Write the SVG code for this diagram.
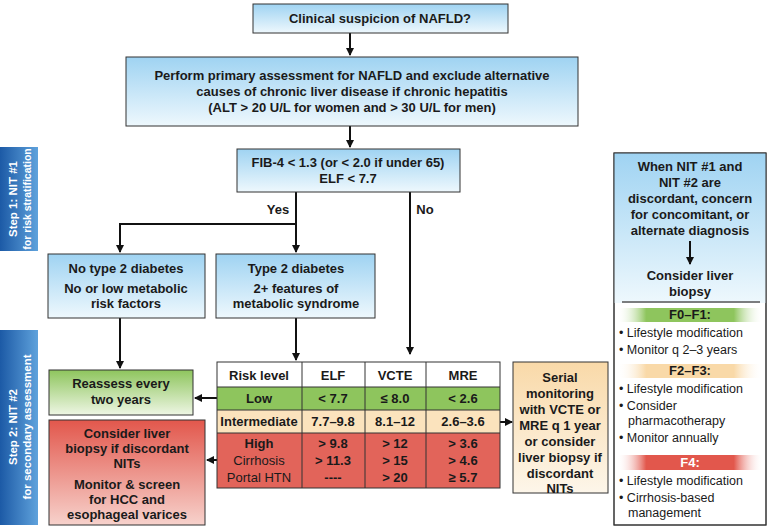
<svg xmlns="http://www.w3.org/2000/svg" width="769" height="531" viewBox="0 0 769 531">
<style>
text{font-family:"Liberation Sans",Arial,sans-serif;font-size:13px;fill:#1a1a1a}
.b{font-weight:bold}
.box{stroke:#333;stroke-width:1}
.ln{stroke:#111;stroke-width:2;fill:none}
.side{font-weight:bold;fill:#fff;font-size:11.5px}
.t{font-size:12.5px}
</style>
<defs>
<linearGradient id="blue" x1="0" y1="0" x2="0" y2="1"><stop offset="0" stop-color="#9fd3f2"/><stop offset="1" stop-color="#eef8fd"/></linearGradient>
<linearGradient id="green" x1="0" y1="0" x2="0" y2="1"><stop offset="0" stop-color="#8ec55d"/><stop offset="1" stop-color="#eef6e4"/></linearGradient>
<linearGradient id="red" x1="0" y1="0" x2="0" y2="1"><stop offset="0" stop-color="#e2574c"/><stop offset="1" stop-color="#f7d2cc"/></linearGradient>
<linearGradient id="beige" x1="0" y1="0" x2="0" y2="1"><stop offset="0" stop-color="#f9d9a8"/><stop offset="1" stop-color="#fdf6ea"/></linearGradient>
<linearGradient id="side" x1="0" y1="0" x2="1" y2="0"><stop offset="0" stop-color="#1c5aa6"/><stop offset="1" stop-color="#5fa2dc"/></linearGradient>
<linearGradient id="hg" x1="0" y1="0" x2="1" y2="0"><stop offset="0" stop-color="#fff" stop-opacity="0"/><stop offset="0.2" stop-color="#8ec55d"/><stop offset="0.8" stop-color="#8ec55d"/><stop offset="1" stop-color="#fff" stop-opacity="0"/></linearGradient>
<linearGradient id="hb" x1="0" y1="0" x2="1" y2="0"><stop offset="0" stop-color="#fff" stop-opacity="0"/><stop offset="0.2" stop-color="#f9d9a8"/><stop offset="0.8" stop-color="#f9d9a8"/><stop offset="1" stop-color="#fff" stop-opacity="0"/></linearGradient>
<linearGradient id="hr" x1="0" y1="0" x2="1" y2="0"><stop offset="0" stop-color="#fff" stop-opacity="0"/><stop offset="0.2" stop-color="#e2574c"/><stop offset="0.8" stop-color="#e2574c"/><stop offset="1" stop-color="#fff" stop-opacity="0"/></linearGradient>
<marker id="ar" markerWidth="8" markerHeight="8" refX="7" refY="4" orient="auto" markerUnits="userSpaceOnUse" viewBox="0 0 8 8"><path d="M0,0 L8,4 L0,8 Z" fill="#111"/></marker>
</defs>
<rect width="769" height="531" fill="#fff"/>

<g id="step1"><rect x="0" y="147" width="38" height="104" fill="url(#side)"/>
<text class="side" transform="translate(17,199) rotate(-90)" text-anchor="middle">Step 1: NIT #1</text>
<text class="side" transform="translate(31,199) rotate(-90)" text-anchor="middle" font-size="10.5" style="font-size:10.5px">for risk stratification</text></g>
<g id="step2"><rect x="0" y="330" width="38" height="195" fill="url(#side)"/>
<text class="side" transform="translate(17,427) rotate(-90)" text-anchor="middle">Step 2: NIT #2</text>
<text class="side" transform="translate(31,427) rotate(-90)" text-anchor="middle">for secondary assessment</text></g>

<g id="connectors">
<path class="ln" d="M350,33 V55" marker-end="url(#ar)"/>
<path class="ln" d="M350,126 V147" marker-end="url(#ar)"/>
<path class="ln" d="M296,192 V252" marker-end="url(#ar)"/>
<path class="ln" d="M296,224 H120 V252" marker-end="url(#ar)"/>
<path class="ln" d="M410,192 V354" marker-end="url(#ar)"/>
<path class="ln" d="M120,318 V368" marker-end="url(#ar)"/>
<path class="ln" d="M296,318 V360" marker-end="url(#ar)"/>
<path class="ln" d="M217,398 H195" marker-end="url(#ar)"/>
<path class="ln" d="M217,460 H207" marker-end="url(#ar)"/>
<path class="ln" d="M500,422 H512" marker-end="url(#ar)"/>
<text x="278" y="214" class="b" text-anchor="middle">Yes</text>
<text x="425" y="214" class="b" text-anchor="middle">No</text>
</g>

<g id="n1"><rect x="253" y="4" width="255" height="29" class="box" fill="url(#blue)"/>
<text x="380" y="23" class="b" text-anchor="middle">Clinical suspicion of NAFLD?</text></g>

<g id="n2"><rect x="126" y="57" width="452" height="69" class="box" fill="url(#blue)"/>
<text class="b" text-anchor="middle"><tspan x="352" y="80">Perform primary assessment for NAFLD and exclude alternative</tspan><tspan x="352" y="96">causes of chronic liver disease if chronic hepatitis</tspan><tspan x="352" y="112">(ALT &gt; 20 U/L for women and &gt; 30 U/L for men)</tspan></text></g>

<g id="n3"><rect x="237" y="149" width="223" height="43" class="box" fill="url(#blue)"/>
<text class="b" text-anchor="middle"><tspan x="348" y="167">FIB-4 &lt; 1.3 (or &lt; 2.0 if under 65)</tspan><tspan x="348" y="183">ELF &lt; 7.7</tspan></text></g>

<g id="n4"><rect x="48" y="254" width="157" height="64" class="box" fill="url(#blue)"/>
<text class="b" text-anchor="middle"><tspan x="126" y="273">No type 2 diabetes</tspan><tspan x="126" y="293">No or low metabolic</tspan><tspan x="126" y="308">risk factors</tspan></text></g>

<g id="n5"><rect x="216" y="254" width="159" height="64" class="box" fill="url(#blue)"/>
<text class="b" text-anchor="middle"><tspan x="296" y="273">Type 2 diabetes</tspan><tspan x="296" y="293">2+ features of</tspan><tspan x="296" y="308">metabolic syndrome</tspan></text></g>

<g id="n6"><rect x="49" y="370" width="144" height="45" class="box" fill="url(#green)"/>
<text class="b" text-anchor="middle"><tspan x="121" y="388">Reassess every</tspan><tspan x="121" y="404">two years</tspan></text></g>

<g id="n7"><rect x="49" y="420" width="156" height="105" class="box" fill="url(#red)"/>
<text class="b" text-anchor="middle"><tspan x="127" y="438">Consider liver</tspan><tspan x="127" y="453">biopsy if discordant</tspan><tspan x="127" y="468">NITs</tspan><tspan x="127" y="489">Monitor &amp; screen</tspan><tspan x="127" y="504">for HCC and</tspan><tspan x="127" y="519">esophageal varices</tspan></text></g>

<g id="table">
<rect x="217" y="362" width="283" height="25" fill="#fff"/>
<rect x="217" y="387" width="283" height="23" fill="#8ec55d"/>
<rect x="217" y="410" width="283" height="23" fill="#fbe3bd"/>
<rect x="217" y="433" width="283" height="55" fill="#e2645a"/>
<g stroke="#333" stroke-width="1" fill="none"><rect x="217" y="362" width="283" height="126"/>
<path d="M217,387H500M217,410H500M217,433H500M302,362V488M365,362V488M426,362V488"/></g>
<g text-anchor="middle">
<text x="259" y="380" class="b">Risk level</text><text x="333" y="380" class="b">ELF</text><text x="395" y="380" class="b">VCTE</text><text x="463" y="380" class="b">MRE</text>
<text x="259" y="403" class="b">Low</text><text x="333" y="403" class="b">&lt; 7.7</text><text x="395" y="403" class="b">≤ 8.0</text><text x="463" y="403" class="b">&lt; 2.6</text>
<text x="259" y="426" class="b">Intermediate</text><text x="333" y="426" class="b">7.7–9.8</text><text x="395" y="426" class="b">8.1–12</text><text x="463" y="426" class="b">2.6–3.6</text>
<text x="259" y="448" class="b">High</text><text x="333" y="448" class="b">&gt; 9.8</text><text x="395" y="448" class="b">&gt; 12</text><text x="463" y="448" class="b">&gt; 3.6</text>
<text x="259" y="465">Cirrhosis</text><text x="333" y="465" class="b">&gt; 11.3</text><text x="395" y="465" class="b">&gt; 15</text><text x="463" y="465" class="b">&gt; 4.6</text>
<text x="259" y="482">Portal HTN</text><text x="333" y="482" class="b">----</text><text x="395" y="482" class="b">&gt; 20</text><text x="463" y="482" class="b">≥ 5.7</text>
</g></g>

<g id="n8"><rect x="513" y="362" width="95" height="131" class="box" fill="url(#beige)"/>
<text class="b" text-anchor="middle"><tspan x="560" y="382">Serial</tspan><tspan x="560" y="398">monitoring</tspan><tspan x="560" y="414">with VCTE or</tspan><tspan x="560" y="430">MRE q 1 year</tspan><tspan x="560" y="446">or consider</tspan><tspan x="560" y="462">liver biopsy if</tspan><tspan x="560" y="478">discordant</tspan><tspan x="560" y="493">NITs</tspan></text></g>

<g id="n9"><rect x="614" y="153" width="152" height="372" class="box" fill="#fff"/>
<rect x="614" y="153" width="152" height="150" fill="url(#blue)"/>
<rect x="614" y="153" width="152" height="372" fill="none" stroke="#333"/>
<text class="b" text-anchor="middle"><tspan x="690" y="171">When NIT #1 and</tspan><tspan x="690" y="187">NIT #2 are</tspan><tspan x="690" y="203">discordant, concern</tspan><tspan x="690" y="219">for concomitant, or</tspan><tspan x="690" y="235">alternate diagnosis</tspan><tspan x="690" y="280">Consider liver</tspan><tspan x="690" y="296">biopsy</tspan></text>
<path class="ln" d="M690,241 V264" marker-end="url(#ar)"/>
<path d="M622,302 H760" stroke="#555" stroke-width="1.5"/>
<rect x="617" y="308" width="146" height="14" fill="url(#hg)"/>
<text x="690" y="319" class="b" text-anchor="middle">F0–F1:</text>
<text class="t"><tspan x="619" y="337">• Lifestyle modification</tspan><tspan x="619" y="354">• Monitor q 2–3 years</tspan></text>
<rect x="617" y="364" width="146" height="14" fill="url(#hb)"/>
<text x="690" y="375" class="b" text-anchor="middle">F2–F3:</text>
<text class="t"><tspan x="619" y="393">• Lifestyle modification</tspan><tspan x="619" y="410">• Consider</tspan><tspan x="628" y="425">pharmacotherapy</tspan><tspan x="619" y="442">• Monitor annually</tspan></text>
<rect x="617" y="455" width="146" height="15" fill="url(#hr)"/>
<text x="690" y="467" class="b" text-anchor="middle" style="fill:#fff">F4:</text>
<text class="t"><tspan x="619" y="485">• Lifestyle modification</tspan><tspan x="619" y="502">• Cirrhosis-based</tspan><tspan x="628" y="517">management</tspan></text>
</g>
</svg>
